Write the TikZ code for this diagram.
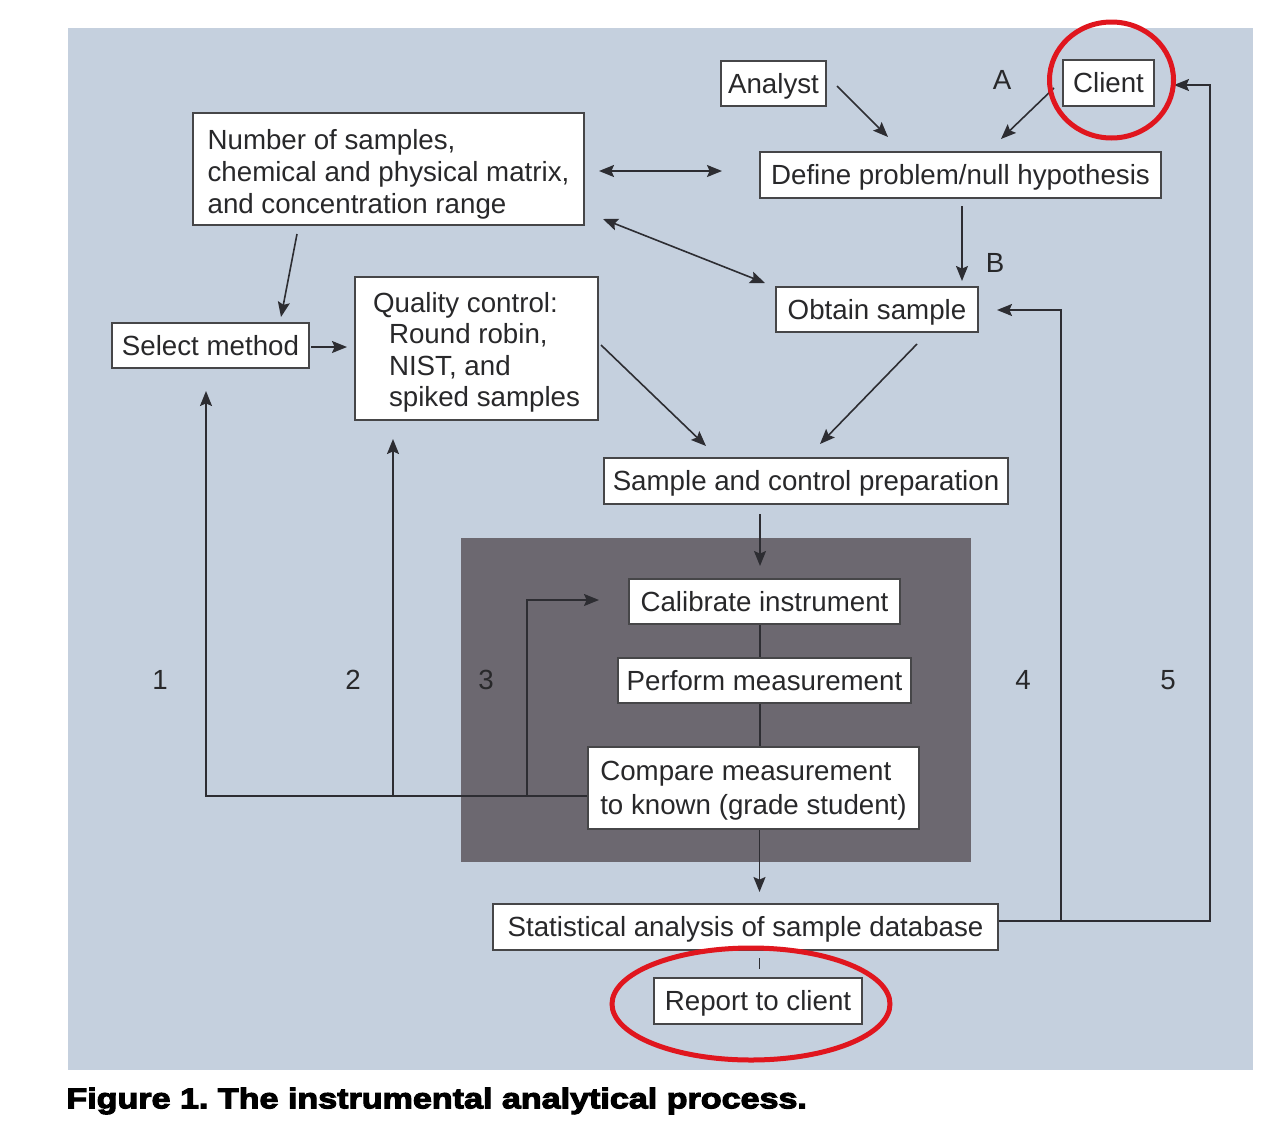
\documentclass[tikz,border=0pt]{standalone}
\usepackage{fontspec}
\setmainfont{Liberation Sans}
\newfontfamily\capfont{Liberation Sans}[BoldFeatures={FakeStretch=1.2,FakeBold=4}]
\usetikzlibrary{arrows.meta,calc}
\definecolor{bgblue}{RGB}{197,208,222}
\definecolor{darkpanel}{RGB}{108,104,112}
\definecolor{linecol}{RGB}{45,45,50}
\definecolor{textcol}{RGB}{40,40,42}
\definecolor{boxline}{RGB}{70,70,72}
\definecolor{ringred}{RGB}{224,22,30}
\newcommand\fs{\fontsize{13.85pt}{16pt}\selectfont}
\begin{document}
\begin{tikzpicture}[x=0.5pt,y=-0.5pt,
  box/.style={draw=boxline, fill=white, line width=1pt, inner sep=0pt, font=\fs, text=textcol, text height=11pt, text depth=1.1pt},
  mbox/.style={box, align=left, text height=, text depth=},
  arr/.style={draw=linecol, line width=0.8pt, -{Stealth[length=7.5pt,width=6pt,inset=1.3pt]}},
  dbl/.style={draw=linecol, line width=0.8pt, {Stealth[length=7.5pt,width=6pt,inset=1.3pt]}-{Stealth[length=7.5pt,width=6pt,inset=1.3pt]}},
  ln/.style={draw=linecol, line width=0.8pt},
  lbl/.style={font=\fs, text=textcol, inner sep=0pt},
  ring/.style={draw=ringred, line width=2.5pt}]

\useasboundingbox (0,0) rectangle (1280,1125);
\fill[white] (0,0) rectangle (1280,1125);
\fill[bgblue] (68,28) rectangle (1253,1070);
\fill[darkpanel] (461,538) rectangle (971,862);

% nodes
\node[box, minimum width=52.5pt, minimum height=22.5pt] (analyst) at (773.5,83.5) {Analyst};
\node[box, minimum width=45.5pt, minimum height=23pt] (client) at (1108.5,83) {Client};
\node[box, minimum width=200.5pt, minimum height=23pt] (define) at (960.5,175) {Define problem/null hypothesis};
\node[mbox, minimum width=195.5pt, minimum height=56pt, font=\fontsize{13.85pt}{16pt}\selectfont] (number) at (388.5,169)
  {\rule{0pt}{15.5pt}Number of samples,\\chemical and physical matrix,\\and concentration range};
\node[box, minimum width=101pt, minimum height=22.5pt] (obtain) at (877,309.5) {Obtain sample};
\node[box, minimum width=98.5pt, minimum height=22.5pt] (select) at (210.5,345.5) {Select method};
\node[mbox, minimum width=121.5pt, minimum height=71.5pt, font=\fontsize{13.85pt}{15.7pt}\selectfont] (quality) at (476.5,348.5)
  {\rule{0pt}{14pt}Quality control:\\\hspace*{8pt}Round robin,\\\hspace*{8pt}NIST, and\\\hspace*{8pt}spiked samples};
\node[box, minimum width=202pt, minimum height=23pt] (prep) at (806,481) {Sample and control preparation};
\node[box, minimum width=135.5pt, minimum height=22.5pt] (calib) at (764.5,601.5) {Calibrate instrument};
\node[box, minimum width=146.5pt, minimum height=22.5pt] (perform) at (764.5,680.5) {Perform measurement};
\node[mbox, minimum width=165.5pt, minimum height=41pt, font=\fontsize{13.85pt}{16.8pt}\selectfont] (compare) at (753.5,788)
  {\rule{0pt}{12.5pt}Compare measurement\\to known (grade student)};
\node[box, minimum width=252.5pt, minimum height=23pt] (stat) at (745.5,927) {Statistical analysis of sample database};
\node[box, minimum width=104pt, minimum height=23pt] (report) at (758,1001) {Report to client};

% labels
\node[lbl] (lA) at (1002,80) {A};
\node[lbl] (lB) at (995,263) {B};
\node[lbl] (l1) at (160,680) {1};
\node[lbl] (l2) at (353,680) {2};
\node[lbl] (l3) at (486,680) {3};
\node[lbl] (l4) at (1023,680) {4};
\node[lbl] (l5) at (1168,680) {5};

% connectors
\draw[arr] ([shift={(10,2.5)}]analyst.east) -- ([shift={(-72.5,-14)}]define.north);
\draw[arr] ([shift={(-8,5)}]client.west) -- ([shift={(40.5,-12)}]define.north);
\draw[dbl] ([shift={(14,2)}]number.east) -- ([shift={(-37,-4)}]define.west);
\draw[dbl] ([shift={(18,-7)}]number.south east) -- ([shift={(-10,-3)}]obtain.north west);
\draw[arr] ([shift={(1.5,7)}]define.south) -- ([shift={(85,-5)}]obtain.north);
\draw[arr] ([shift={(-91.5,8)}]number.south) -- ([shift={(70.5,-5)}]select.north);
\draw[arr] ([shift={(1,1.5)}]select.east) -- ([shift={(-7,-1.5)}]quality.west);
\draw[arr] ([shift={(2,-3.5)}]quality.east) -- ([shift={(-100,-11)}]prep.north);
\draw[arr] ([shift={(40,11)}]obtain.south) -- ([shift={(14,-13)}]prep.north);
\draw[arr] ([shift={(-46,9)}]prep.south) -- ([shift={(-4.5,-12)}]calib.north);
\draw[ln] ([shift={(-4.5,0)}]calib.south) -- ([shift={(-4.5,0)}]perform.north);
\draw[ln] ([shift={(-4.5,0)}]perform.south) -- ([shift={(6.5,0)}]compare.north);
\draw[arr] ([shift={(6,0)}]compare.south) -- ([shift={(14,-11)}]stat.north);
\draw[ln] ([shift={(14,7)}]stat.south) -- ([shift={(1.5,-8)}]report.north);

% feedback loops (left)
\coordinate (fb) at ([shift={(0,8)}]compare.west);
\coordinate (t1) at ([shift={(-4.5,22)}]select.south);
\coordinate (t2) at ([shift={(-83.5,18)}]quality.south);
\coordinate (t3) at ([shift={(-29,-1.5)}]calib.west);
\coordinate (x3) at (527,0);
\draw[arr] (fb) -| (t1);
\draw[arr] (fb -| t2) -- (t2);
\draw[arr] (fb -| x3) |- (t3);

% feedback loops (right)
\coordinate (fr) at ([shift={(0,-6)}]stat.east);
\coordinate (t4) at ([shift={(18,0.5)}]obtain.east);
\coordinate (t5) at ([shift={(19,2)}]client.east);
\coordinate (x4) at (1061,0);
\coordinate (x5) at (1210,0);
\draw[arr] (fr) -| (t5 -| x5) -- (t5);
\draw[arr] (fr -| x4) |- (t4);

% red highlight rings
\draw[ring] ([shift={(3,-3)}]client.center) ellipse [x radius=31pt, y radius=29pt];
\draw[ring] ([shift={(-7,3)}]report.center) ellipse [x radius=69.5pt, y radius=28pt];

% caption
\node[anchor=west, inner sep=0pt, text=black, font=\capfont\bfseries\fontsize{14.2pt}{16pt}\selectfont] (cap) at (66,1101)
  {Figure 1.\ The instrumental analytical process.};
\end{tikzpicture}
\end{document}
